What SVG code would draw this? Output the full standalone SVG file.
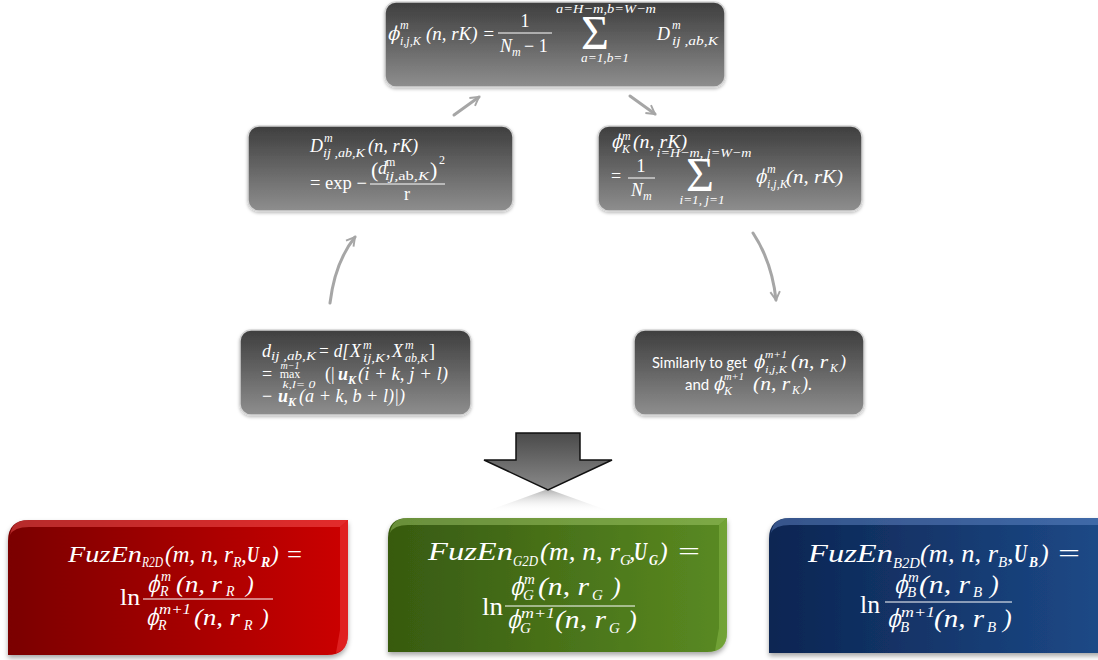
<svg xmlns="http://www.w3.org/2000/svg" width="1098" height="660" viewBox="0 0 1098 660">
<defs>
<linearGradient id="gBox" x1="0" y1="0" x2="0" y2="1"><stop offset="0" stop-color="#3e3e3e"/><stop offset="1" stop-color="#8e8e8e"/></linearGradient>
<linearGradient id="gArrow" x1="0" y1="0" x2="0" y2="1"><stop offset="0" stop-color="#4a4a4a"/><stop offset="1" stop-color="#8a8a8a"/></linearGradient>
<linearGradient id="gRefl" x1="0" y1="0" x2="0" y2="1"><stop offset="0" stop-color="#8a8a8a" stop-opacity="0.7"/><stop offset="1" stop-color="#ffffff" stop-opacity="0"/></linearGradient>
<linearGradient id="gRed" x1="0" y1="0" x2="1" y2="0"><stop offset="0" stop-color="#7a0204"/><stop offset="1" stop-color="#cc0000"/></linearGradient>
<linearGradient id="gGreen" x1="0" y1="0" x2="1" y2="0"><stop offset="0" stop-color="#375a10"/><stop offset="1" stop-color="#5a8a22"/></linearGradient>
<linearGradient id="gBlue" x1="0" y1="0" x2="1" y2="0"><stop offset="0" stop-color="#0c2552"/><stop offset="1" stop-color="#1d4a88"/></linearGradient>
<filter id="sh" x="-10%" y="-10%" width="120%" height="130%"><feDropShadow dx="0" dy="3" stdDeviation="2.5" flood-color="#000" flood-opacity="0.35"/></filter>
<filter id="sh2" x="-10%" y="-10%" width="120%" height="130%"><feDropShadow dx="0" dy="1.5" stdDeviation="1.5" flood-color="#000" flood-opacity="0.25"/></filter>
<marker id="ah" viewBox="0 0 10 10" refX="8" refY="5" markerWidth="4" markerHeight="4" orient="auto" markerUnits="strokeWidth"><path d="M1,1 L8,5 L1,9" fill="none" stroke="#a6a6a6" stroke-width="1.6"/></marker>
</defs>
<style>
.box{fill:url(#gBox);stroke:#d4d4d4;stroke-width:1.5}
.t{fill:#fff;font-family:"Liberation Serif",serif;font-style:italic}
.r{font-style:normal}
.bd{font-weight:bold}
.ph{fill:#fff;font-family:"DejaVu Serif",serif;font-style:normal}
.sg{fill:#fff;font-family:"Liberation Serif",serif;font-style:normal}
.sn{fill:#fff;font-family:Lato,"Open Sans",sans-serif;font-size:15px}
.bar{stroke:#fff;stroke-width:1}
.conn{fill:none;stroke:#a6a6a6;stroke-width:3;stroke-linecap:round;marker-end:url(#ah)}
</style>
<rect width="1098" height="660" fill="#fff"/>

<g id="connectors">
<line class="conn" x1="454" y1="115" x2="479" y2="97"/>
<line class="conn" x1="630" y1="96" x2="655" y2="114"/>
<path class="conn" d="M330,303 Q335,262 355,237"/>
<path class="conn" d="M753,233 Q772,262 776,300"/>
</g>

<g id="node-phi-ij">
<rect class="box" x="385" y="2" width="340" height="85" rx="11" filter="url(#sh2)"/>
<text class="ph" transform="translate(387,40) skewX(-14)" font-size="19" textLength="12" lengthAdjust="spacingAndGlyphs">ϕ</text>
<text class="t" x="400" y="29" font-size="12">m</text>
<text class="t" x="400" y="45" font-size="12">i,j,K</text>
<text class="t" x="426" y="40" font-size="18" textLength="69" lengthAdjust="spacingAndGlyphs">(n, rK) =</text>
<text class="t r" x="525" y="27" font-size="18" text-anchor="middle">1</text>
<line class="bar" x1="498" y1="33" x2="552" y2="33"/>
<text class="t" x="500" y="52" font-size="18">N</text>
<text class="t" x="512" y="56" font-size="12">m</text>
<text class="t r" x="524" y="52" font-size="18">− 1</text>
<text class="sg" x="595" y="49" font-size="48" text-anchor="middle">Σ</text>
<text class="t" x="606" y="13" font-size="13" text-anchor="middle" textLength="100" lengthAdjust="spacingAndGlyphs">a=H−m,b=W−m</text>
<text class="t" x="605" y="62" font-size="13" text-anchor="middle" textLength="48" lengthAdjust="spacingAndGlyphs">a=1,b=1</text>
<text class="t" x="657" y="40" font-size="18">D</text>
<text class="t" x="672" y="29" font-size="12">m</text>
<text class="t" x="672" y="45" font-size="13" textLength="46" lengthAdjust="spacingAndGlyphs">ij ,ab,K</text>
</g>

<g id="node-D">
<rect class="box" x="248" y="126" width="265" height="85" rx="11" filter="url(#sh2)"/>
<text class="t" x="310" y="152" font-size="18">D</text>
<text class="t" x="324" y="142" font-size="12">m</text>
<text class="t" x="323" y="157" font-size="13" textLength="42" lengthAdjust="spacingAndGlyphs">ij ,ab,K</text>
<text class="t" x="368" y="152" font-size="18" textLength="50" lengthAdjust="spacingAndGlyphs">(n, rK)</text>
<text class="t r" x="310" y="189" font-size="18" textLength="57" lengthAdjust="spacingAndGlyphs">= exp −</text>
<text class="t r" x="371" y="177" font-size="22">(</text>
<text class="t" x="378" y="174" font-size="18">d</text>
<text class="t r" x="386" y="166" font-size="12">m</text>
<text class="t" x="385" y="180" font-size="13" textLength="44" lengthAdjust="spacingAndGlyphs">ij,<tspan class="r">ab</tspan>,K</text>
<text class="t r" x="430" y="177" font-size="22">)</text>
<text class="t r" x="439" y="164" font-size="12">2</text>
<line class="bar" x1="370" y1="184" x2="445" y2="184"/>
<text class="t r" x="407" y="200" font-size="18" text-anchor="middle">r</text>
</g>

<g id="node-phiK">
<rect class="box" x="598" y="126" width="264" height="85" rx="11" filter="url(#sh2)"/>
<text class="ph" transform="translate(611,148) skewX(-14)" font-size="19" textLength="11" lengthAdjust="spacingAndGlyphs">ϕ</text>
<text class="t" x="622" y="140" font-size="12">m</text>
<text class="t" x="622" y="153" font-size="12">K</text>
<text class="t" x="633" y="148" font-size="18" textLength="54" lengthAdjust="spacingAndGlyphs">(n, rK)</text>
<text class="t" x="704" y="157" font-size="13" text-anchor="middle" textLength="95" lengthAdjust="spacingAndGlyphs">i=H−m, j=W−m</text>
<text class="t r" x="611" y="182" font-size="18">=</text>
<text class="t r" x="641" y="172" font-size="18" text-anchor="middle">1</text>
<line class="bar" x1="628" y1="178" x2="655" y2="178"/>
<text class="t" x="631" y="196" font-size="18">N</text>
<text class="t" x="643" y="200" font-size="12">m</text>
<text class="sg" x="700" y="191" font-size="48" text-anchor="middle">Σ</text>
<text class="t" x="702" y="204" font-size="13" text-anchor="middle" textLength="45" lengthAdjust="spacingAndGlyphs">i=1, j=1</text>
<text class="ph" transform="translate(755,183) skewX(-14)" font-size="19" textLength="11" lengthAdjust="spacingAndGlyphs">ϕ</text>
<text class="t" x="767" y="173" font-size="12">m</text>
<text class="t" x="767" y="188" font-size="12">i,j,K</text>
<text class="t" x="786" y="183" font-size="18" textLength="57" lengthAdjust="spacingAndGlyphs">(n, rK)</text>
</g>

<g id="node-d">
<rect class="box" x="240" y="330" width="231" height="85" rx="11" filter="url(#sh2)"/>
<text class="t" x="262" y="357" font-size="18">d</text>
<text class="t" x="271" y="360" font-size="13" textLength="45" lengthAdjust="spacingAndGlyphs">ij ,ab,K</text>
<text class="t" x="318" y="357" font-size="18" textLength="31" lengthAdjust="spacingAndGlyphs">= d[</text>
<text class="t" x="350" y="357" font-size="18">X</text>
<text class="t" x="363" y="349" font-size="12">m</text>
<text class="t" x="363" y="362" font-size="12" textLength="22" lengthAdjust="spacingAndGlyphs">ij,K</text>
<text class="t" x="386" y="357" font-size="18">,</text>
<text class="t" x="392" y="357" font-size="18">X</text>
<text class="t" x="405" y="349" font-size="12">m</text>
<text class="t" x="405" y="362" font-size="12" textLength="23" lengthAdjust="spacingAndGlyphs">ab,K</text>
<text class="t r" x="429" y="357" font-size="18">]</text>
<text class="t r" x="262" y="380" font-size="18">=</text>
<text class="t" x="290" y="369" font-size="10" text-anchor="middle">m−1</text>
<text class="t r" x="290" y="378" font-size="12" text-anchor="middle">max</text>
<text class="t" x="299" y="388" font-size="11" text-anchor="middle" textLength="33" lengthAdjust="spacingAndGlyphs">k,l= 0</text>
<text class="t r" x="325" y="380" font-size="18">(|</text>
<text class="t bd" x="338" y="380" font-size="18">u</text>
<text class="t bd" x="348" y="384" font-size="12">K</text>
<text class="t" x="358" y="380" font-size="18" textLength="90" lengthAdjust="spacingAndGlyphs">(i + k, j + l)</text>
<text class="t r" x="262" y="402" font-size="18">−</text>
<text class="t bd" x="278" y="402" font-size="18">u</text>
<text class="t bd" x="288" y="406" font-size="12">K</text>
<text class="t" x="299" y="402" font-size="18" textLength="106" lengthAdjust="spacingAndGlyphs">(a + k, b + l)|)</text>
</g>

<g id="node-similarly">
<rect class="box" x="634" y="330" width="230" height="85" rx="11" filter="url(#sh2)"/>
<text class="sn" x="652" y="368" textLength="95" lengthAdjust="spacingAndGlyphs">Similarly to get</text>
<text class="ph" transform="translate(753,368) skewX(-14)" font-size="18" textLength="11" lengthAdjust="spacingAndGlyphs">ϕ</text>
<text class="t" x="765" y="358" font-size="11" textLength="22" lengthAdjust="spacingAndGlyphs">m+1</text>
<text class="t" x="765" y="373" font-size="11" textLength="22" lengthAdjust="spacingAndGlyphs">i,j,K</text>
<text class="t" x="791" y="368" font-size="18" textLength="37" lengthAdjust="spacingAndGlyphs">(n, r</text>
<text class="t" x="830" y="372" font-size="12">K</text>
<text class="t" x="840" y="368" font-size="18">)</text>
<text class="sn" x="685" y="390">and</text>
<text class="ph" transform="translate(713,390) skewX(-14)" font-size="18" textLength="11" lengthAdjust="spacingAndGlyphs">ϕ</text>
<text class="t" x="724" y="380" font-size="11" textLength="20" lengthAdjust="spacingAndGlyphs">m+1</text>
<text class="t" x="724" y="395" font-size="12">K</text>
<text class="t" x="753" y="390" font-size="18" textLength="37" lengthAdjust="spacingAndGlyphs">(n, r</text>
<text class="t" x="792" y="394" font-size="12">K</text>
<text class="t" x="802" y="390" font-size="18">).</text>
</g>

<g id="big-arrow">
<polygon points="548,489 484,512 612,512" fill="url(#gRefl)"/>
<polygon points="516,433 580,433 580,460 612,460 548,490 484,460 516,460" fill="url(#gArrow)" stroke="#111" stroke-width="1.5" stroke-linejoin="miter"/>
</g>

<g id="node-red">
<path d="M8,655 L8,541 Q8,520 29,520 L348,520 L348,634 Q348,655 327,655 Z" fill="url(#gRed)" filter="url(#sh)"/>
<path d="M29,520 L348,520 L340,527 L29,527 Q14,527 10,535 Q12,520 29,520 Z" fill="#ff6060" opacity="0.45"/>
<path d="M348,520 L348,634 Q348,650 336,653 L340,630 L340,527 Z" fill="#ff5050" opacity="0.4"/>
<text class="t" x="68" y="562" font-size="23" textLength="74" lengthAdjust="spacingAndGlyphs">FuzEn</text>
<text class="t" x="142" y="567" font-size="14" textLength="21" lengthAdjust="spacingAndGlyphs">R2D</text>
<text class="t" x="165" y="562" font-size="23" textLength="68" lengthAdjust="spacingAndGlyphs">(m, n, r</text>
<text class="t" x="233" y="567" font-size="14">R</text>
<text class="t" x="241" y="562" font-size="23">,</text>
<text class="t bd" x="247" y="562" font-size="23" textLength="12" lengthAdjust="spacingAndGlyphs">U</text>
<text class="t bd" x="261" y="567" font-size="14">R</text>
<text class="t" x="271" y="562" font-size="23">)</text>
<text class="t r" x="287" y="562" font-size="23" textLength="15" lengthAdjust="spacingAndGlyphs">=</text>
<text class="t r" x="120" y="605" font-size="23" textLength="20" lengthAdjust="spacingAndGlyphs">ln</text>
<text class="ph" transform="translate(147,592) skewX(-14)" font-size="23" textLength="12" lengthAdjust="spacingAndGlyphs">ϕ</text>
<text class="t" x="161" y="581" font-size="14">m</text>
<text class="t" x="160" y="596" font-size="14">R</text>
<text class="t" x="176" y="592" font-size="23" textLength="46" lengthAdjust="spacingAndGlyphs">(n, r</text>
<text class="t" x="226" y="596" font-size="14">R</text>
<text class="t" x="246" y="592" font-size="23">)</text>
<line class="bar" x1="143" y1="599" x2="273" y2="599" stroke-width="1.3"/>
<text class="ph" transform="translate(146,625) skewX(-14)" font-size="23" textLength="12" lengthAdjust="spacingAndGlyphs">ϕ</text>
<text class="t" x="159" y="614" font-size="14" textLength="32" lengthAdjust="spacingAndGlyphs">m+1</text>
<text class="t" x="158" y="630" font-size="14">R</text>
<text class="t" x="194" y="625" font-size="23" textLength="46" lengthAdjust="spacingAndGlyphs">(n, r</text>
<text class="t" x="244" y="630" font-size="14">R</text>
<text class="t" x="261" y="625" font-size="23">)</text>
</g>

<g id="node-green">
<path d="M388,652 L388,538 Q388,518 408,518 L727,518 L727,632 Q727,652 707,652 Z" fill="url(#gGreen)" filter="url(#sh)"/>
<path d="M408,518 L727,518 L719,525 L408,525 Q394,525 390,533 Q392,518 408,518 Z" fill="#a8d070" opacity="0.45"/>
<path d="M727,518 L727,632 Q727,648 715,651 L719,628 L719,525 Z" fill="#90c050" opacity="0.45"/>
<text class="t" x="428" y="560" font-size="26" textLength="85" lengthAdjust="spacingAndGlyphs">FuzEn</text>
<text class="t" x="513" y="566" font-size="15" textLength="25" lengthAdjust="spacingAndGlyphs">G2D</text>
<text class="t" x="540" y="560" font-size="26" textLength="80" lengthAdjust="spacingAndGlyphs">(m, n, r</text>
<text class="t" x="620" y="565" font-size="15">G</text>
<text class="t" x="629" y="560" font-size="26">,</text>
<text class="t bd" x="634" y="560" font-size="26" textLength="13" lengthAdjust="spacingAndGlyphs">U</text>
<text class="t bd" x="649" y="565" font-size="15" textLength="9" lengthAdjust="spacingAndGlyphs">G</text>
<text class="t" x="659" y="560" font-size="26">)</text>
<text class="t r" x="678" y="560" font-size="26" textLength="22" lengthAdjust="spacingAndGlyphs">=</text>
<text class="t r" x="482" y="615" font-size="26" textLength="21" lengthAdjust="spacingAndGlyphs">ln</text>
<text class="ph" transform="translate(510,595) skewX(-14)" font-size="25" textLength="13" lengthAdjust="spacingAndGlyphs">ϕ</text>
<text class="t" x="524" y="584" font-size="15">m</text>
<text class="t" x="523" y="600" font-size="15">G</text>
<text class="t" x="538" y="595" font-size="26" textLength="51" lengthAdjust="spacingAndGlyphs">(n, r</text>
<text class="t" x="592" y="600" font-size="15">G</text>
<text class="t" x="612" y="595" font-size="26">)</text>
<line class="bar" x1="505" y1="606" x2="635" y2="606" stroke-width="1.4"/>
<text class="ph" transform="translate(507,628) skewX(-14)" font-size="25" textLength="13" lengthAdjust="spacingAndGlyphs">ϕ</text>
<text class="t" x="521" y="618" font-size="15" textLength="34" lengthAdjust="spacingAndGlyphs">m+1</text>
<text class="t" x="520" y="633" font-size="15">G</text>
<text class="t" x="555" y="628" font-size="26" textLength="51" lengthAdjust="spacingAndGlyphs">(n, r</text>
<text class="t" x="609" y="633" font-size="15">G</text>
<text class="t" x="628" y="628" font-size="26">)</text>
</g>

<g id="node-blue">
<path d="M769,653 L769,539 Q769,518 790,518 L1110,518 L1110,653 Z" fill="url(#gBlue)" filter="url(#sh)"/>
<path d="M790,518 L1110,518 L1110,525 L790,525 Q775,525 771,533 Q773,518 790,518 Z" fill="#6a90d0" opacity="0.45"/>
<text class="t" x="808" y="562" font-size="26" textLength="85" lengthAdjust="spacingAndGlyphs">FuzEn</text>
<text class="t" x="893" y="568" font-size="15" textLength="27" lengthAdjust="spacingAndGlyphs">B2D</text>
<text class="t" x="920" y="562" font-size="26" textLength="78" lengthAdjust="spacingAndGlyphs">(m, n, r</text>
<text class="t" x="998" y="567" font-size="15">B</text>
<text class="t" x="1007" y="562" font-size="26">,</text>
<text class="t bd" x="1014" y="562" font-size="26" textLength="13" lengthAdjust="spacingAndGlyphs">U</text>
<text class="t bd" x="1029" y="567" font-size="15" textLength="9" lengthAdjust="spacingAndGlyphs">B</text>
<text class="t" x="1040" y="562" font-size="26">)</text>
<text class="t r" x="1058" y="562" font-size="26" textLength="22" lengthAdjust="spacingAndGlyphs">=</text>
<text class="t r" x="860" y="613" font-size="26" textLength="20" lengthAdjust="spacingAndGlyphs">ln</text>
<text class="ph" transform="translate(894,593) skewX(-14)" font-size="25" textLength="13" lengthAdjust="spacingAndGlyphs">ϕ</text>
<text class="t" x="908" y="582" font-size="15">m</text>
<text class="t" x="907" y="597" font-size="15">B</text>
<text class="t" x="919" y="593" font-size="26" textLength="51" lengthAdjust="spacingAndGlyphs">(n, r</text>
<text class="t" x="973" y="597" font-size="15">B</text>
<text class="t" x="990" y="593" font-size="26">)</text>
<line class="bar" x1="885" y1="602" x2="1012" y2="602" stroke-width="1.4"/>
<text class="ph" transform="translate(887,627) skewX(-14)" font-size="25" textLength="13" lengthAdjust="spacingAndGlyphs">ϕ</text>
<text class="t" x="901" y="617" font-size="15" textLength="34" lengthAdjust="spacingAndGlyphs">m+1</text>
<text class="t" x="900" y="632" font-size="15">B</text>
<text class="t" x="934" y="627" font-size="26" textLength="50" lengthAdjust="spacingAndGlyphs">(n, r</text>
<text class="t" x="987" y="632" font-size="15">B</text>
<text class="t" x="1003" y="627" font-size="26">)</text>
</g>
</svg>
